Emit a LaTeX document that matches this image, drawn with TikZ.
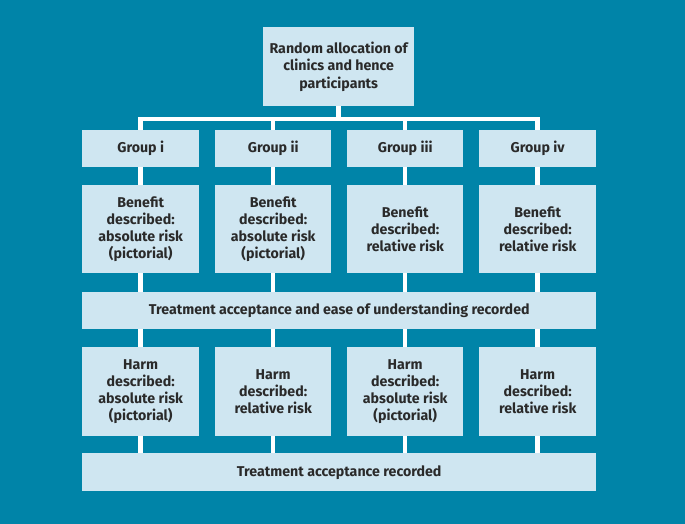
\documentclass[tikz,border=0pt]{standalone}
\usepackage{fontspec}
\setmainfont{Fira Sans}
\usetikzlibrary{calc}
\definecolor{bgteal}{HTML}{0084A8}
\definecolor{boxfill}{HTML}{CFE6F1}
\definecolor{txt}{HTML}{2A2A2A}
\begin{document}
\begin{tikzpicture}[x=1bp,y=-1bp,
  box/.style={fill=boxfill, draw=none, inner sep=0pt, anchor=north west, align=center,
    text=txt, font=\fontsize{14.2bp}{17.2bp}\selectfont\bfseries},
  conn/.style={draw=white, line width=4.5bp, line cap=butt}]
\fill[bgteal] (0,0) rectangle (685,524);
\useasboundingbox (0,0) rectangle (685,524);
% top
\node[box, minimum width=151bp, minimum height=79bp] (top) at (263,27) {Random allocation of\\clinics and hence\\participants};
% groups
\node[box, minimum width=117bp, minimum height=37bp] (g1) at (82,130) {Group i};
\node[box, minimum width=116bp, minimum height=37bp] (g2) at (215,130) {Group ii};
\node[box, minimum width=116bp, minimum height=37bp] (g3) at (347,130) {Group iii};
\node[box, minimum width=117bp, minimum height=37bp] (g4) at (479,130) {Group iv};
% benefit
\node[box, minimum width=117bp, minimum height=88bp] (b1) at (82,185) {Benefit\\described:\\absolute risk\\(pictorial)};
\node[box, minimum width=116bp, minimum height=88bp] (b2) at (215,185) {Benefit\\described:\\absolute risk\\(pictorial)};
\node[box, minimum width=116bp, minimum height=88bp] (b3) at (347,185) {Benefit\\described:\\relative risk};
\node[box, minimum width=117bp, minimum height=88bp] (b4) at (479,185) {Benefit\\described:\\relative risk};
% treatment row
\node[box, minimum width=514bp, minimum height=37bp] (t1) at (82,292) {Treatment acceptance and ease of understanding recorded};
% harm
\node[box, minimum width=117bp, minimum height=89bp] (h1) at (82,347) {Harm\\described:\\absolute risk\\(pictorial)};
\node[box, minimum width=116bp, minimum height=89bp] (h2) at (215,347) {Harm\\described:\\relative risk};
\node[box, minimum width=116bp, minimum height=89bp] (h3) at (347,347) {Harm\\described:\\absolute risk\\(pictorial)};
\node[box, minimum width=117bp, minimum height=89bp] (h4) at (479,347) {Harm\\described:\\relative risk};
% last row
\node[box, minimum width=514bp, minimum height=38bp] (t2) at (82,453) {Treatment acceptance recorded};
% connectors
\coordinate (bus) at ($(top.south)+(0,12.5)$);
\draw[conn] (top.south) -- (bus);
\draw[conn, line join=miter] (g1.north) -- (g1.north |- bus) -- (g4.north |- bus) -- (g4.north);
\draw[conn] (g2.north) -- (g2.north |- bus);
\draw[conn] (g3.north) -- (g3.north |- bus);
\foreach \i in {1,2,3,4}{
  \draw[conn] (g\i.south) -- (b\i.north);
  \draw[conn] (b\i.south) -- (b\i.south |- t1.north);
  \draw[conn] (h\i.north) -- (h\i.north |- t1.south);
  \draw[conn] (h\i.south) -- (h\i.south |- t2.north);
}
\end{tikzpicture}
\end{document}
